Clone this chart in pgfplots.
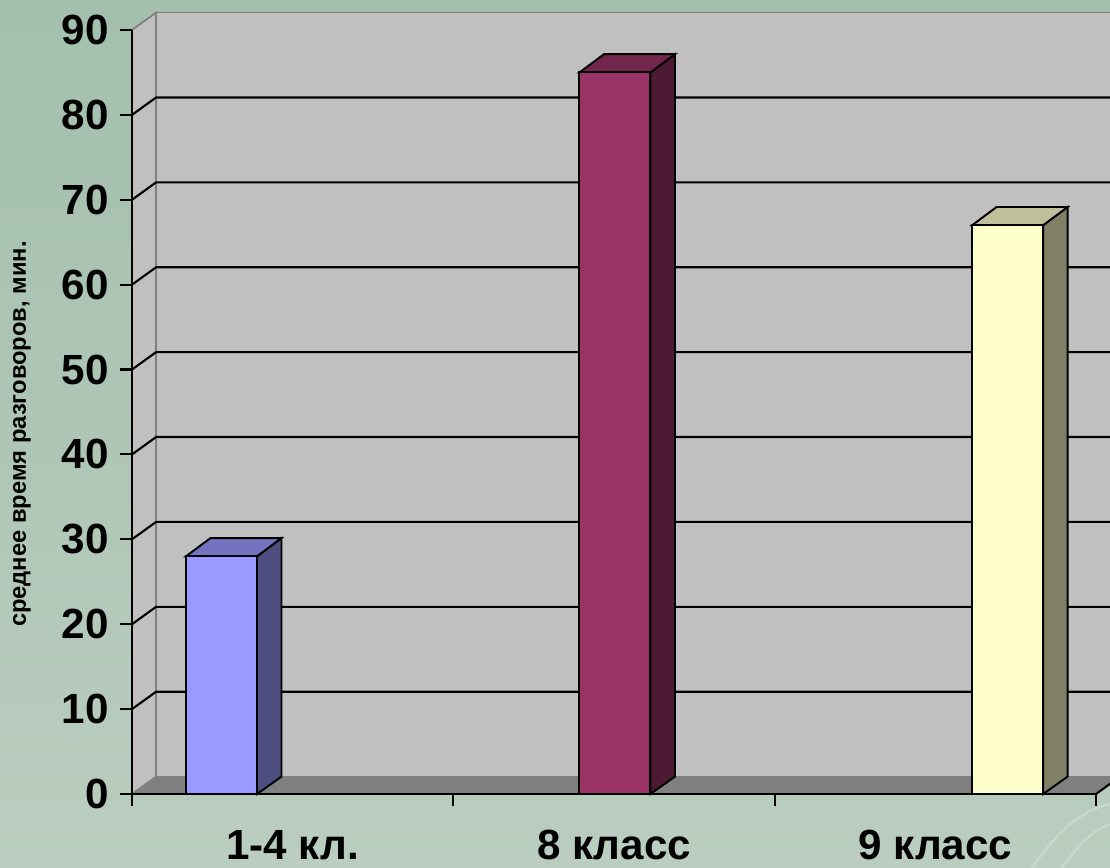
\documentclass[border=0pt]{standalone}
\usepackage{pgfplots}
\pgfplotsset{compat=1.18}
\usepackage{fontspec}
\setmainfont{Liberation Sans}
\definecolor{bgtop}{RGB}{163,191,173}
\definecolor{bgbot}{RGB}{186,205,192}
\definecolor{wall}{RGB}{192,192,192}
\definecolor{floorc}{RGB}{128,128,128}
\definecolor{edgec}{RGB}{128,128,128}
\definecolor{aF}{RGB}{153,153,255}
\definecolor{aT}{RGB}{115,115,191}
\definecolor{aS}{RGB}{77,77,128}
\definecolor{bF}{RGB}{153,51,102}
\definecolor{bT}{RGB}{115,38,77}
\definecolor{bS}{RGB}{77,26,51}
\definecolor{cF}{RGB}{255,255,204}
\definecolor{cT}{RGB}{191,191,153}
\definecolor{cS}{RGB}{128,128,102}
\begin{document}
\begin{tikzpicture}[x=1cm,y=1cm]
\useasboundingbox (-2.64,-1.48) rectangle (19.56,15.88);
\begin{scope}
\clip (-2.64,-1.48) rectangle (19.56,15.88);
\shade[top color=bgtop,bottom color=bgbot] (-2.64,-1.48) rectangle (19.56,15.88);
\draw[white,opacity=0.25,line width=1.2pt] (18.0,-1.48) .. controls (18.6,-0.6) and (19.1,-0.3) .. (19.56,-0.2);
\draw[white,opacity=0.25,line width=1.2pt] (18.6,-1.48) .. controls (19.0,-0.9) and (19.3,-0.7) .. (19.56,-0.6);
\begin{axis}[
  at={(0,0)}, anchor=south west,
  scale only axis, width=19.28cm, height=15.28cm,
  xmin=0, xmax=3, ymin=0, ymax=90,
  clip=false, axis on top,
  axis x line*=bottom, axis y line*=left,
  axis line style={-, black, line width=1.2pt},
  every tick/.style={black, line width=1.2pt},
  tick align=outside, major tick length=0.24cm,
  ytick={0,10,...,90},
  xtick={0,1,2,3}, xticklabels={},
  extra x ticks={0.5,1.5,2.5},
  extra x tick labels={1-4 кл.,8 класс,9 класс},
  extra x tick style={major tick length=0pt},
  /pgf/number format/assume math mode=true,
  yticklabel style={font=\fontsize{24}{24}\selectfont\bfseries, xshift=-0.1cm},
  xticklabel style={font=\fontsize{24}{24}\selectfont\bfseries, yshift=-0.6cm},
  ylabel={среднее время разговоров, мин.},
  ylabel style={font=\fontsize{13.5}{13.5}\selectfont\bfseries, at={(axis description cs:-0.1142,0.471)}, anchor=center},
]
% walls and floor
\addplot[fill=wall, draw=edgec, line width=1pt] coordinates {(0.075,2.05) (3.075,2.05) (3.075,92.05) (0.075,92.05)} -- cycle;
\addplot[fill=wall, draw=edgec, line width=1pt] coordinates {(0,0) (0.075,2.05) (0.075,92.05) (0,90)} -- cycle;
\addplot[fill=floorc, draw=none] coordinates {(0,0) (3,0) (3.075,2.05) (0.075,2.05)} -- cycle;
\addplot[black, line width=1.2pt] coordinates {(3,0) (3.075,2.05)};
% gridlines
\addplot[black, line width=1.2pt] coordinates {(0,10) (0.075,12.05) (3.075,12.05)};
\addplot[black, line width=1.2pt] coordinates {(0,20) (0.075,22.05) (3.075,22.05)};
\addplot[black, line width=1.2pt] coordinates {(0,30) (0.075,32.05) (3.075,32.05)};
\addplot[black, line width=1.2pt] coordinates {(0,40) (0.075,42.05) (3.075,42.05)};
\addplot[black, line width=1.2pt] coordinates {(0,50) (0.075,52.05) (3.075,52.05)};
\addplot[black, line width=1.2pt] coordinates {(0,60) (0.075,62.05) (3.075,62.05)};
\addplot[black, line width=1.2pt] coordinates {(0,70) (0.075,72.05) (3.075,72.05)};
\addplot[black, line width=1.2pt] coordinates {(0,80) (0.075,82.05) (3.075,82.05)};
% bar 1: 28
\addplot[fill=aS, draw=black, line width=1.1pt] coordinates {(0.389,0) (0.4653,2.05) (0.4653,30.15) (0.389,28)} -- cycle;
\addplot[fill=aT, draw=black, line width=1.1pt] coordinates {(0.168,28) (0.389,28) (0.4653,30.15) (0.2443,30.15)} -- cycle;
\addplot[ybar, bar shift=0pt, bar width=1.42cm, fill=aF, draw=black, line width=1.1pt] coordinates {(0.2785,28)};
% bar 2: 85
\addplot[fill=bS, draw=black, line width=1.1pt] coordinates {(1.6135,0) (1.6898,2.05) (1.6898,87.15) (1.6135,85)} -- cycle;
\addplot[fill=bT, draw=black, line width=1.1pt] coordinates {(1.3925,85) (1.6135,85) (1.6898,87.15) (1.4688,87.15)} -- cycle;
\addplot[ybar, bar shift=0pt, bar width=1.42cm, fill=bF, draw=black, line width=1.1pt] coordinates {(1.503,85)};
% bar 3: 67
\addplot[fill=cS, draw=black, line width=1.1pt] coordinates {(2.8355,0) (2.9118,2.05) (2.9118,69.15) (2.8355,67)} -- cycle;
\addplot[fill=cT, draw=black, line width=1.1pt] coordinates {(2.6145,67) (2.8355,67) (2.9118,69.15) (2.6908,69.15)} -- cycle;
\addplot[ybar, bar shift=0pt, bar width=1.42cm, fill=cF, draw=black, line width=1.1pt] coordinates {(2.725,67)};
\end{axis}
\end{scope}
\end{tikzpicture}
\end{document}
